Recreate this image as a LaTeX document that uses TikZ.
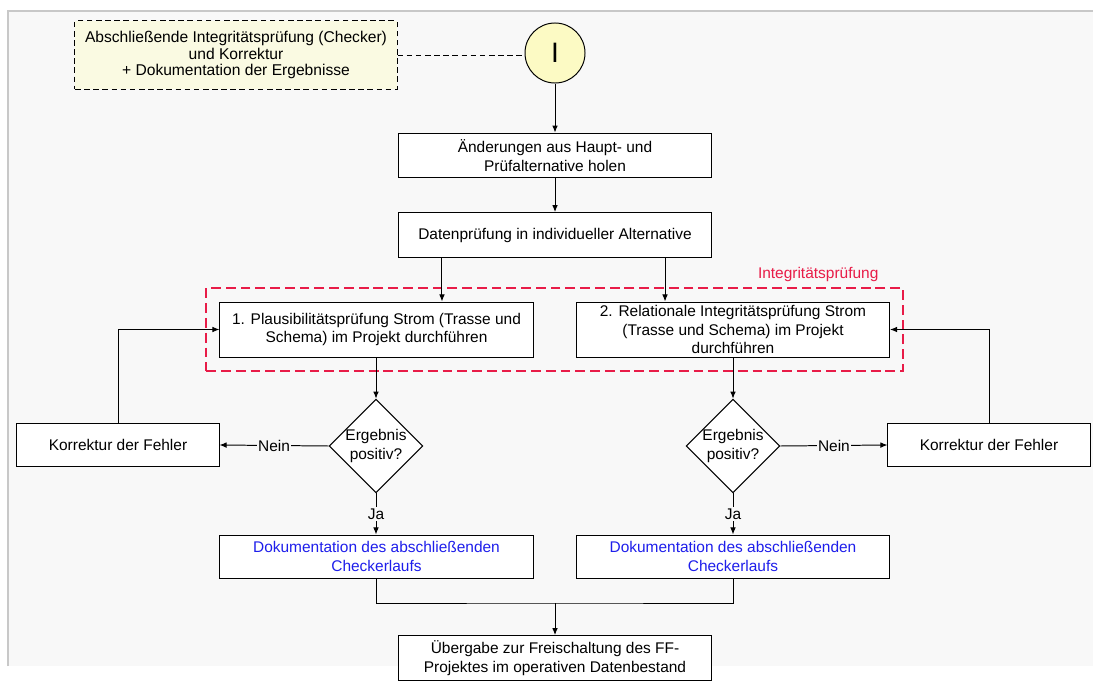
\documentclass[tikz,border=0pt]{standalone}
\usepackage{fontspec}
\setmainfont{Liberation Sans}
\usetikzlibrary{shapes.geometric,arrows.meta,fit}

\definecolor{paper}{RGB}{248,248,248}
\definecolor{frameline}{RGB}{200,200,200}
\definecolor{notefill}{RGB}{250,250,226}
\definecolor{circfill}{RGB}{252,250,196}
\definecolor{checkred}{RGB}{232,28,72}
\definecolor{doublue}{RGB}{30,30,235}

\tikzset{
  box/.style={draw,fill=white,line width=0.7pt,align=center,
    minimum width=7.825cm,minimum height=1.12cm,inner sep=2pt,
    font=\fontsize{11}{13}\selectfont},
  fixbox/.style={box,minimum width=5.05cm,minimum height=1.075cm},
  docbox/.style={box,minimum height=1.075cm,text=doublue},
  decide/.style={draw,fill=white,line width=0.7pt,diamond,align=center,
    inner sep=0pt,minimum width=2.2cm,minimum height=2.1cm,
    font=\fontsize{11}{13}\selectfont},
  arr/.style={line width=0.7pt,-{Latex[length=5pt,width=4pt]}},
  lbl/.style={fill=paper,inner sep=1pt,font=\fontsize{11}{13}\selectfont},
}

\begin{document}
\begin{tikzpicture}[x=0.025cm,y=-0.025cm]
\useasboundingbox (0,0) rectangle (1093,684);
% page area
\fill[paper] (8,11) rectangle (1093,666);
\draw[frameline,line width=1pt] (8,666) -- (8,11) -- (1093,11);

% start
\node[draw,dashed,dash pattern=on 4pt off 2.5pt,fill=notefill,line width=0.7pt,
  minimum width=8.05cm,minimum height=1.7cm,align=center,
  font=\fontsize{11.1}{12}\selectfont] (note) at (236,55)
  {Abschließende Integritätsprüfung (Checker)\\und Korrektur\\+ Dokumentation der Ergebnisse};
\node[draw,circle,fill=circfill,line width=0.7pt,minimum size=1.5cm,
  font=\fontsize{20}{24}\selectfont] (circ) at (555,53) {I};
\draw[dashed,dash pattern=on 4pt off 2.5pt,line width=0.7pt] (note.east) -- (note.east -| circ.west);

\node[box] (fetch) at (555,155.5) {Änderungen aus Haupt- und\\Prüfalternative holen};
\node[box] (check) at (555,235) {Datenprüfung in individueller Alternative};

\node[box,minimum height=1.375cm] (plaus) at (376.5,329.5)
  {1. Plausibilitätsprüfung Strom (Trasse und\\Schema) im Projekt durchführen};
\node[box,minimum height=1.375cm] (relat) at (733,329.5)
  {2. Relationale Integritätsprüfung Strom\\(Trasse und Schema) im Projekt\\durchführen};

\node[draw=checkred,dashed,dash pattern=on 7pt off 3.5pt,line width=1.2pt,
  inner sep=0.33cm,fit=(plaus)(relat)] (integ) {};
\node[anchor=south east,text=checkred,inner sep=1pt,
  font=\fontsize{11}{13}\selectfont] (integlbl)
  at ([xshift=-0.6cm,yshift=0.1cm]integ.north east) {Integritätsprüfung};

\node[decide] (dec1) at (376,446) {Ergebnis\\positiv?};
\node[decide] (dec2) at (733,446) {Ergebnis\\positiv?};
\node[fixbox] (fix1) at (118,445) {Korrektur der Fehler};
\node[fixbox] (fix2) at (989,445) {Korrektur der Fehler};

\node[docbox] (doc1) at (376.5,556.5) {Dokumentation des abschließenden\\Checkerlaufs};
\node[docbox] (doc2) at (733,556.5) {Dokumentation des abschließenden\\Checkerlaufs};

\node[box] (handover) at (555,658) {Übergabe zur Freischaltung des FF-\\Projektes im operativen Datenbestand};
\coordinate (join) at (555,603);

% connectors
\draw[arr] (circ.south) -- (fetch.north);
\draw[arr] (fetch) -- (check);
\draw[arr] ([xshift=-2.825cm]check.south) -- ([xshift=-2.825cm]check.south |- plaus.north);
\draw[arr] ([xshift=2.75cm]check.south) -- ([xshift=2.75cm]check.south |- relat.north);
\draw[arr] (plaus.south -| dec1.north) -- (dec1.north);
\draw[arr] (relat.south -| dec2.north) -- (dec2.north);
\draw[arr] (dec1.west) -- node[lbl] {Nein} (fix1.east);
\draw[arr] (dec2.east) -- node[lbl] {Nein} (fix2.west);
\draw[arr] (fix1.north) |- (plaus.west);
\draw[arr] (fix2.north) |- (relat.east);
\draw[arr] (dec1.south) -- node[lbl] {Ja} (doc1.north -| dec1.south);
\draw[arr] (dec2.south) -- node[lbl] {Ja} (doc2.north -| dec2.south);
\draw[line width=0.7pt] (doc1.south -| dec1.south) |- (join) -| (doc2.south -| dec2.south);
\draw[arr] (join) -- (handover.north);
\end{tikzpicture}
\end{document}
